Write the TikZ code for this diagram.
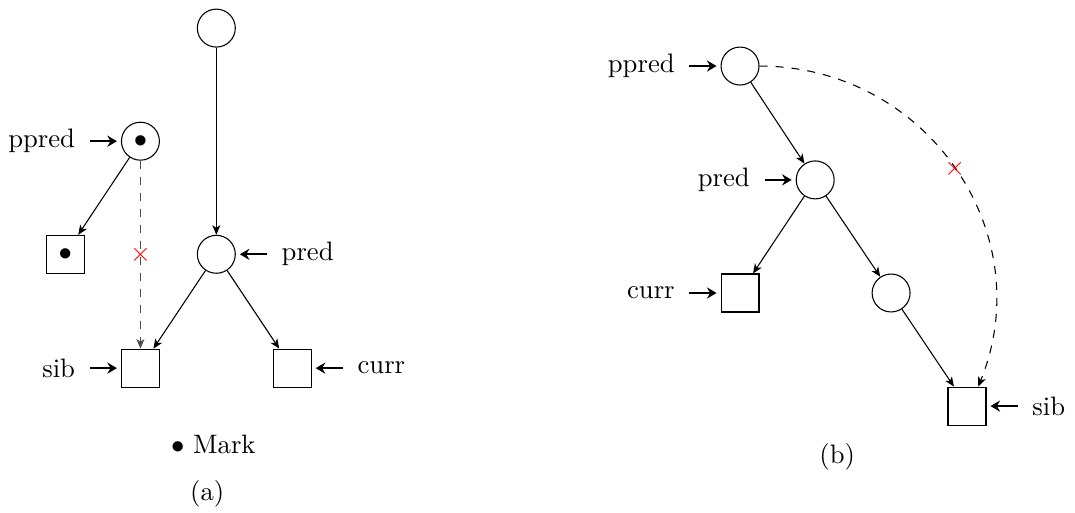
\documentclass[tikz,border=0pt]{standalone}
\usetikzlibrary{positioning, arrows.meta}
\begin{document}
\begin{tikzpicture}[
    vert/.style={draw, circle, minimum size=0.5cm, inner sep=0pt},
    leaf/.style={draw, rectangle, minimum size=0.5cm, inner sep=0pt},
    ptr/.style={-{Stealth[length=3.6pt, width=4.2pt, inset=1.2pt]}, thick, shorten <=2pt, shorten >=1.5pt},
    link/.style={-{Stealth[length=3.6pt, width=3pt, inset=1pt]}},
    xmark/.style={text=red, inner sep=0pt}]
    \useasboundingbox (0,0) rectangle (14.163,-6.746);
    % (a) ppred marked, sib unlinked
    \node[vert] (atop) at (2.85,-0.37) {};
    \node[vert] (appred) at (1.85,-1.86) {$\bullet$};
    \node[vert] (apred) at (2.85,-3.35) {};
    \node[leaf] (amk) at (0.86,-3.35) {$\bullet$};
    \node[leaf] (asib) at (1.85,-4.85) {};
    \node[leaf] (acurr) at (3.85,-4.85) {};
    \draw[link] (atop) -- (apred);
    \draw[link] (appred) -- (amk);
    \draw[link] (apred) -- (asib);
    \draw[link] (apred) -- (acurr);
    \draw[link, dashed, black!70] (appred) -- node[xmark]{$\times$} (asib);
    \node (alppred) [left=0.48cm of appred] {ppred};
    \node (alpred) [right=0.48cm of apred] {pred};
    \node (alsib) [left=0.48cm of asib] {sib};
    \node (alcurr) [right=0.48cm of acurr] {curr};
    \draw[ptr] (alppred) -- (appred);
    \draw[ptr] (alpred) -- (apred);
    \draw[ptr] (alsib) -- (asib);
    \draw[ptr] (alcurr) -- (acurr);
    \node (amark) at (2.81,-5.86) {$\bullet$ Mark};
    \node (acap) at (2.73,-6.51) {(a)};
    % (b) ppred linked past pred
    \node[vert] (bppred) at (9.75,-0.87) {};
    \node[vert] (bpred) at (10.74,-2.37) {};
    \node[leaf] (bcurr) at (9.75,-3.86) {};
    \node[vert] (bnext) at (11.74,-3.86) {};
    \node[leaf] (bsib) at (12.74,-5.35) {};
    \draw[link] (bppred) -- (bpred);
    \draw[link] (bpred) -- (bcurr);
    \draw[link] (bpred) -- (bnext);
    \draw[link] (bnext) -- (bsib);
    \draw[link, dashed] (bppred.east) to[out=0, in=68, looseness=1.1]
        node[xmark]{$\times$} (bsib.60);
    \node (blppred) [left=0.48cm of bppred] {ppred};
    \node (blpred) [left=0.48cm of bpred] {pred};
    \node (blcurr) [left=0.48cm of bcurr] {curr};
    \node (blsib) [right=0.48cm of bsib] {sib};
    \draw[ptr] (blppred) -- (bppred);
    \draw[ptr] (blpred) -- (bpred);
    \draw[ptr] (blcurr) -- (bcurr);
    \draw[ptr] (blsib) -- (bsib);
    \node (bcap) at (11.03,-6.02) {(b)};
\end{tikzpicture}
\end{document}
